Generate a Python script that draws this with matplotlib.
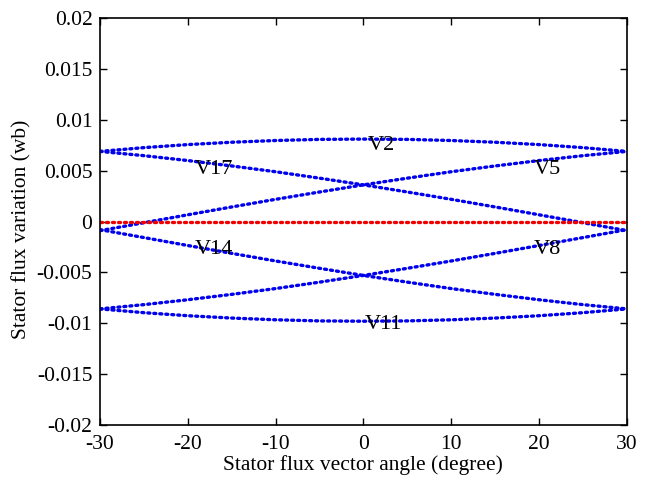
import numpy as np
import matplotlib
matplotlib.use("Agg")
import matplotlib.pyplot as plt

plt.rcParams['font.family'] = ['Liberation Serif', 'DejaVu Serif']
plt.rcParams['axes.unicode_minus'] = False

# stator flux angle (degree)
angle = [-30, -25, -20, -15, -10, -5, 0, 5, 10, 15, 20, 25, 30]

# stator flux variation (wb) for each voltage vector
v2 = [0.00689, 0.00726, 0.00756, 0.00779, 0.00796, 0.00807, 0.00810,
      0.00807, 0.00796, 0.00779, 0.00756, 0.00726, 0.00689]
v17 = [0.00689, 0.00647, 0.00599, 0.00546, 0.00489, 0.00426, 0.00360,
       0.00290, 0.00218, 0.00143, 0.00066, -0.00012, -0.00090]
v5 = [-0.00090, -0.00012, 0.00066, 0.00143, 0.00218, 0.00290, 0.00360,
      0.00426, 0.00489, 0.00546, 0.00599, 0.00647, 0.00689]
v11 = [-0.00859, -0.00896, -0.00926, -0.00949, -0.00966, -0.00977, -0.00980,
       -0.00977, -0.00966, -0.00949, -0.00926, -0.00896, -0.00859]
v8 = [-0.00859, -0.00817, -0.00769, -0.00716, -0.00659, -0.00596, -0.00530,
      -0.00460, -0.00388, -0.00313, -0.00236, -0.00158, -0.00080]
v14 = [-0.00080, -0.00158, -0.00236, -0.00313, -0.00388, -0.00460, -0.00530,
       -0.00596, -0.00659, -0.00716, -0.00769, -0.00817, -0.00859]
zero = [0.0] * len(angle)

labels = ["V2", "V17", "V5", "V14", "V8", "V11"]
label_x = [2.0, -17.0, 21.0, -17.0, 21.0, 2.3]
label_y = [0.0075, 0.0051, 0.0051, -0.0028, -0.0028, -0.0101]

fig = plt.figure(figsize=(6.55, 4.84), dpi=100)
ax = fig.add_axes([0.1527, 0.1219, 0.8043, 0.8409])

dots = (0, (0.6, 1.2))
for series in [v2, v17, v5, v11, v8, v14]:
    ax.plot(angle, series, color='#0000ee', lw=2.4, linestyle=dots,
            dash_capstyle='round')
ax.plot(angle, zero, color='#ee0000', lw=2.4, linestyle=dots,
        dash_capstyle='round')

for t, x, y in zip(labels, label_x, label_y):
    ax.text(x, y, t, fontsize=16, ha='center', va='center')

ax.set_xlim(-30, 30)
ax.set_ylim(-0.02, 0.02)
ax.set_xticks([-30, -20, -10, 0, 10, 20, 30])
ax.set_yticks([-0.02, -0.015, -0.01, -0.005, 0, 0.005, 0.01, 0.015, 0.02])
ax.set_yticklabels(["-0.02", "-0.015", "-0.01", "-0.005", "0",
                    "0.005", "0.01", "0.015", "0.02"])
ax.tick_params(direction='in', length=5, width=1, labelsize=15.5,
               top=True, right=True, pad=5.5)
ax.tick_params(axis='x', pad=7)
for s in ax.spines.values():
    s.set_linewidth(1.2)

ax.set_xlabel("Stator flux vector angle (degree)", fontsize=15.5, labelpad=1)
ax.set_ylabel("Stator flux variation (wb)", fontsize=15.5)
ax.yaxis.set_label_coords(-0.13, 0.48)

fig.savefig("out.png", dpi=100)
